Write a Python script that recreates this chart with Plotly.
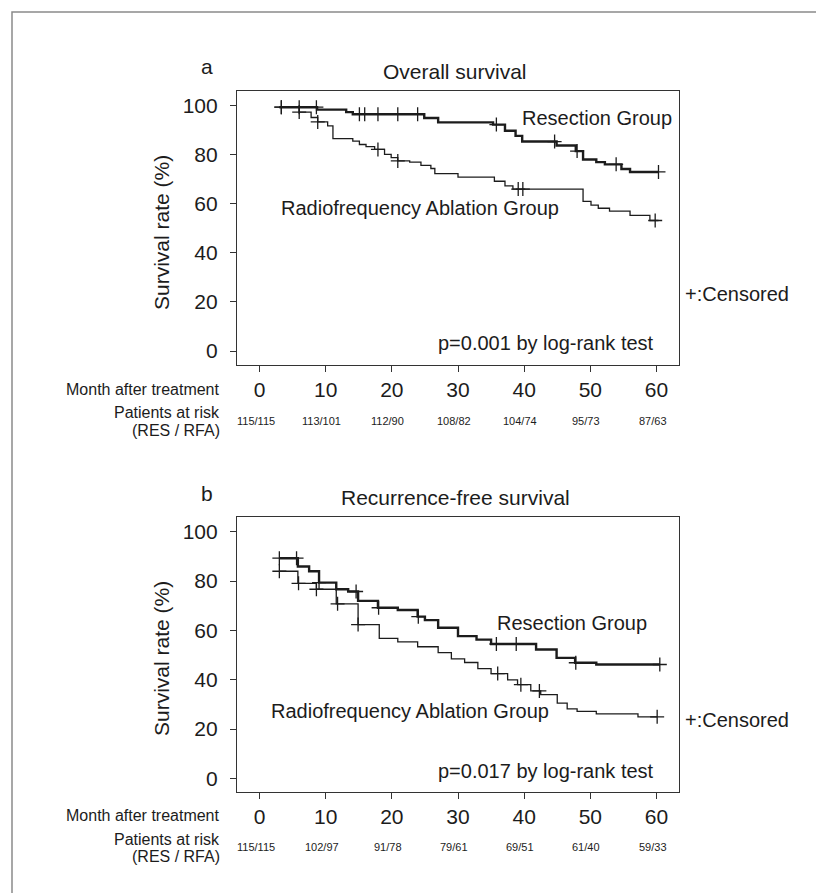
import plotly.graph_objects as go

# ---------------- data ----------------
months_ticks = [0, 10, 20, 30, 40, 50, 60]
y_ticks = [0, 20, 40, 60, 80, 100]

# Panel a: Overall survival
os_res_t = [3.0, 8.7, 13.1, 14.1, 24.9, 27.0, 35.3, 37.1, 38.7, 39.7, 44.9, 47.8, 48.9, 50.9, 52.2, 54.7, 56.0, 60.3]
os_res_s = [99.4, 98.4, 97.4, 96.5, 95.0, 93.2, 92.3, 89.8, 87.7, 85.4, 83.8, 81.5, 78.1, 77.0, 76.1, 74.2, 73.0, 73.0]
os_res_c = [3.3, 6.0, 8.6, 15.1, 15.9, 17.9, 20.9, 23.9, 35.8, 44.6, 48.0, 53.9, 60.3]

os_rfa_t = [3.0, 6.0, 7.8, 8.8, 10.3, 11.1, 14.1, 15.1, 16.1, 17.4, 18.9, 19.9, 20.9, 22.7, 24.4, 25.9, 26.5,
            30.0, 35.5, 37.1, 38.3, 48.9, 50.1, 51.2, 52.9, 56.0, 59.0, 60.3]
os_rfa_s = [99.4, 97.4, 95.2, 93.4, 91.8, 86.6, 85.6, 84.2, 83.3, 82.2, 80.2, 78.8, 77.5, 77.0, 75.7, 74.4, 72.3,
            70.9, 69.2, 67.3, 66.0, 61.0, 59.5, 58.2, 57.0, 55.3, 53.2, 53.2]
os_rfa_c = [3.3, 6.0, 8.8, 17.9, 20.9, 39.1, 39.8, 59.8]

os_risk = ["115/115", "113/101", "112/90", "108/82", "104/74", "95/73", "87/63"]

# Panel b: Recurrence-free survival
rfs_res_t = [3.0, 5.8, 7.5, 9.0, 11.6, 13.4, 14.9, 17.9, 20.9, 23.9, 25.0, 27.0, 30.0, 32.8, 35.0, 41.8, 44.9,
             47.7, 50.9, 60.5]
rfs_res_s = [89.3, 85.9, 84.0, 79.4, 76.7, 75.8, 72.0, 69.2, 68.3, 65.6, 64.2, 61.1, 57.7, 56.3, 54.5, 52.3, 48.9,
             46.9, 46.2, 46.2]
rfs_res_c = [3.0, 5.6, 9.0, 14.6, 18.0, 24.0, 35.8, 38.8, 47.8, 60.5]

rfs_rfa_t = [3.0, 5.8, 8.6, 11.6, 14.9, 18.1, 20.9, 23.9, 27.0, 29.0, 31.0, 33.0, 35.0, 37.5, 39.0, 41.0, 42.5,
             45.0, 46.5, 48.0, 50.9, 57.2, 60.1]
rfs_rfa_s = [84.0, 79.1, 76.7, 70.8, 62.4, 56.8, 55.4, 53.4, 51.0, 48.5, 47.0, 44.5, 42.5, 40.0, 38.0, 35.5, 34.0,
             30.5, 28.2, 27.2, 26.2, 25.0, 25.0]
rfs_rfa_c = [3.0, 5.9, 8.6, 11.8, 14.9, 36.0, 39.5, 42.3, 60.1]

rfs_risk = ["115/115", "102/97", "91/78", "79/61", "69/51", "61/40", "59/33"]

# ---------------- helpers ----------------
W, H = 824, 893
FONT = "Liberation Sans, Arial, Helvetica, sans-serif"
INK = "#1c1c1c"


def px(x):
    return x / W


def py(y):
    return 1 - y / H


def step_at(ts, ss, c):
    v = ss[0]
    for t, s in zip(ts, ss):
        if t <= c:
            v = s
    return v


fig = go.Figure()


def add_km(t, s, c, xa, ya, width):
    fig.add_trace(go.Scatter(x=t, y=s, mode="lines", line=dict(color=INK, width=width, shape="hv"),
                             xaxis=xa, yaxis=ya, showlegend=False, hoverinfo="skip"))
    fig.add_trace(go.Scatter(x=c, y=[step_at(t, s, v) for v in c], mode="markers",
                             marker=dict(symbol="cross-thin", size=10, line=dict(color=INK, width=1.3)),
                             xaxis=xa, yaxis=ya, showlegend=False, hoverinfo="skip"))


add_km(os_res_t, os_res_s, os_res_c, "x", "y", 2.4)
add_km(os_rfa_t, os_rfa_s, os_rfa_c, "x", "y", 1.3)
add_km(rfs_res_t, rfs_res_s, rfs_res_c, "x2", "y2", 2.4)
add_km(rfs_rfa_t, rfs_rfa_s, rfs_rfa_c, "x2", "y2", 1.3)

xdom = [px(229), px(671)]
axis_common = dict(showline=True, mirror=True, linecolor="#333", linewidth=1.2, ticks="outside", ticklen=6,
                   tickcolor="#333", tickwidth=1.2, showgrid=False, zeroline=False,
                   tickfont=dict(family=FONT, size=21, color=INK))

fig.update_layout(
    width=W, height=H, autosize=False, margin=dict(l=0, r=0, t=0, b=0),
    paper_bgcolor="white", plot_bgcolor="white",
    xaxis=dict(domain=xdom, range=[-3.4, 63.4], tickvals=months_ticks, anchor="y", ticklabelstandoff=0,
               **axis_common),
    yaxis=dict(domain=[py(357), py(83)], range=[-5.7, 106.0], tickvals=y_ticks, anchor="x", ticklabelstandoff=8,
               **axis_common),
    xaxis2=dict(domain=xdom, range=[-3.4, 63.4], tickvals=months_ticks, anchor="y2", ticklabelstandoff=0,
                **axis_common),
    yaxis2=dict(domain=[py(784), py(509)], range=[-5.5, 106.0], tickvals=y_ticks, anchor="x2", ticklabelstandoff=8,
                **axis_common),
)

ann = []


def text(x, y, s, size, xanchor="center", yanchor="middle", xref=None, yref=None, angle=0):
    ann.append(dict(x=x, y=y, text=s, showarrow=False, xanchor=xanchor, yanchor=yanchor, textangle=angle,
                    xref=xref or "paper", yref=yref or "paper",
                    font=dict(family=FONT, size=size, color=INK)))


panels = [
    dict(off=0, label="a", title="Overall survival", risk=os_risk, xr="x", yr="y",
         res_lbl=(62.6, 95.1, "right"), rfa_lbl=(3.0, 58.4, "left"), p="p=0.001 by log-rank test"),
    dict(off=426, label="b", title="Recurrence-free survival", risk=rfs_risk, xr="x2", yr="y2",
         res_lbl=(35.6, 63.0, "left"), rfa_lbl=(1.4, 27.2, "left"), p="p=0.017 by log-rank test"),
]

for p in panels:
    o = p["off"]
    text(px(199), py(59 + o), p["label"], 21)
    text(px(447), py(63 + o), p["title"], 21)
    text(px(153), py(225 + o), "Survival rate (%)", 21, angle=-90)
    text(px(675), py(286 + o), "+:Censored", 20, xanchor="left")
    text(px(214), py(381 + o), "Month after treatment", 16, xanchor="right")
    text(px(214), py(405 + o), "Patients at risk", 16, xanchor="right")
    text(px(214), py(422 + o), "(RES / RFA)", 16, xanchor="right")
    for m, r in zip(months_ticks, p["risk"]):
        text(m - 0.6, py(413 + o), r, 11, xref=p["xr"], yref="paper")
    x, y, a = p["res_lbl"]
    text(x, y, "Resection Group", 20, xanchor=a, xref=p["xr"], yref=p["yr"])
    x, y, a = p["rfa_lbl"]
    text(x, y, "Radiofrequency Ablation Group", 20, xanchor=a, xref=p["xr"], yref=p["yr"])
    text(59.9, 3.2, p["p"], 20, xanchor="right", xref=p["xr"], yref=p["yr"])

fig.update_layout(annotations=ann)

fig.add_shape(type="rect", xref="paper", yref="paper", x0=px(4), x1=px(819), y0=py(889), y1=py(4),
              line=dict(color="#8a8a8a", width=1.5))

fig.write_html("out.html")
